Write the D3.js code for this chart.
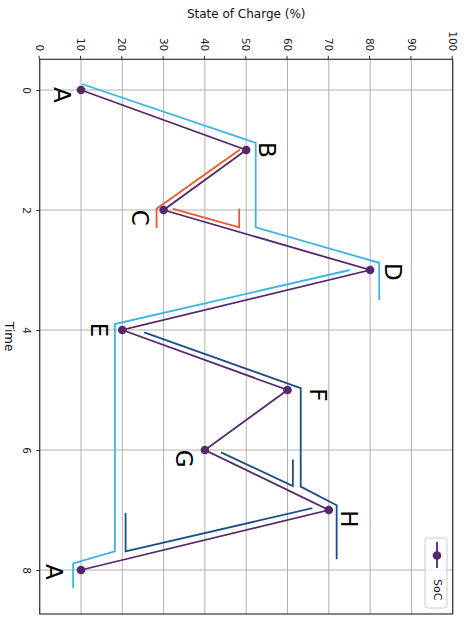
<!DOCTYPE html>
<html>
<head>
<meta charset="utf-8">
<script src="https://cdn.jsdelivr.net/npm/d3@7"></script>
<style>
  body { margin: 0; background: #fff; }
  svg { display: block; font-family: "DejaVu Sans", sans-serif; }
</style>
</head>
<body>
<svg id="chart" width="470" height="634"></svg>
<script>
// state of charge profile, turning points A..H..A
const times = [0, 1, 2, 3, 4, 5, 6, 7, 8];
const soc = [10, 50, 30, 80, 20, 60, 40, 70, 10];
const pointLabels = ["A", "B", "C", "D", "E", "F", "G", "H", "A"];
// where each letter sits, [time, soc]
const labelPos = [[0.08, 5.5], [1.0, 55.0], [2.13, 24.3], [3.03, 85.5], [4.0, 14.4],
                  [5.08, 67.5], [6.145, 34.9], [7.15, 74.9], [8.03, 3.5]];

// rainflow paths, [time, soc]
const blueFlow1 = [[-0.1, 10.2], [0.88, 52.3], [2.29, 52.3], [2.88, 82.2], [3.5, 82.2]];
const blueFlow2 = [[3.0, 75.1], [3.9, 18.2], [7.69, 18.2], [7.89, 8.1], [8.3, 8.1]];
const orangeFlow1 = [[0.99, 48.5], [1.98, 28.3], [2.3, 28.3]];
const orangeFlow2 = [[1.98, 32.3], [2.29, 48.3], [1.98, 48.3]];
const navyFlow1 = [[4.04, 25.3], [4.97, 63.2], [6.61, 63.2], [6.92, 71.9], [7.82, 71.9]];
const navyFlow2 = [[6.04, 43.9], [6.6, 61.3], [6.16, 61.3]];
const navyFlow3 = [[6.97, 66.0], [7.69, 20.8], [7.05, 20.8]];

const timeTicks = [0, 2, 4, 6, 8];
const socTicks = [0, 10, 20, 30, 40, 50, 60, 70, 80, 90, 100];

// the chart is drawn as a normal 634x470 plot, then turned 90deg clockwise
const plotL = 59.3, plotR = 614, plotT = 17.3, plotB = 430.3;

var svg = d3.select("#chart");
var g = svg.append("g").attr("transform", "translate(470,0) rotate(90)");

var x = d3.scaleLinear().domain([(plotL - 90) / 60, (plotR - 90) / 60]).range([plotL, plotR]);
var y = d3.scaleLinear().domain([0, 100]).range([plotB, plotT]);

// grid
g.append("g").selectAll("line").data(timeTicks).enter().append("line")
  .attr("x1", d => x(d)).attr("x2", d => x(d))
  .attr("y1", plotT).attr("y2", plotB)
  .attr("stroke", "#b0b0b0").attr("stroke-width", 1);
g.append("g").selectAll("line").data(socTicks).enter().append("line")
  .attr("x1", plotL).attr("x2", plotR)
  .attr("y1", d => y(d)).attr("y2", d => y(d))
  .attr("stroke", "#b0b0b0").attr("stroke-width", 1);

var line = d3.line().x(d => x(d[0])).y(d => y(d[1]));

var flows = [
  [blueFlow1, "#3bb4e6"], [blueFlow2, "#3bb4e6"],
  [orangeFlow1, "#f0562b"], [orangeFlow2, "#f0562b"],
  [navyFlow1, "#1d4d88"], [navyFlow2, "#1d4d88"], [navyFlow3, "#1d4d88"]
];
g.append("g").selectAll("path").data(flows).enter().append("path")
  .attr("d", d => line(d[0]))
  .attr("fill", "none")
  .attr("stroke", d => d[1])
  .attr("stroke-width", 1.8);

var socData = times.map((t, i) => [t, soc[i]]);
g.append("path")
  .attr("d", line(socData))
  .attr("fill", "none")
  .attr("stroke", "#55286b")
  .attr("stroke-width", 1.8);
g.append("g").selectAll("circle").data(socData).enter().append("circle")
  .attr("cx", d => x(d[0])).attr("cy", d => y(d[1]))
  .attr("r", 4.3).attr("fill", "#55286b");

g.append("g").selectAll("text").data(labelPos).enter().append("text")
  .attr("x", d => x(d[0]))
  .attr("y", d => y(d[1]))
  .attr("text-anchor", "middle")
  .attr("dominant-baseline", "central")
  .attr("font-size", 23)
  .attr("fill", "#000")
  .text((d, i) => pointLabels[i]);

// axes
var xAxis = g.append("g").attr("transform", `translate(0,${plotB})`)
  .call(d3.axisBottom(x).tickValues(timeTicks).tickSize(3.5).tickPadding(6).tickFormat(d3.format("d")));
var yAxis = g.append("g").attr("transform", `translate(${plotL},0)`)
  .call(d3.axisLeft(y).tickValues(socTicks).tickSize(3.5).tickPadding(4.5).tickFormat(d3.format("d")));
[xAxis, yAxis].forEach(a => {
  a.select(".domain").remove();
  a.selectAll("line").attr("stroke", "#333");
  a.selectAll("text").attr("font-size", 10.5).attr("fill", "#222").attr("font-family", "DejaVu Sans");
});

g.append("rect")
  .attr("x", plotL).attr("y", plotT)
  .attr("width", plotR - plotL).attr("height", plotB - plotT)
  .attr("fill", "none").attr("stroke", "#333").attr("stroke-width", 1.2);

g.append("text")
  .attr("x", (plotL + plotR) / 2).attr("y", 465)
  .attr("text-anchor", "middle")
  .attr("font-size", 12).attr("fill", "#111")
  .text("Time");
g.append("text")
  .attr("transform", `translate(14,${(plotT + plotB) / 2}) rotate(-90)`)
  .attr("text-anchor", "middle")
  .attr("dominant-baseline", "central")
  .attr("font-size", 12).attr("fill", "#111")
  .text("State of Charge (%)");

// legend
var legend = g.append("g").attr("transform", "translate(538,23)");
legend.append("rect")
  .attr("width", 70).attr("height", 22).attr("rx", 2.5)
  .attr("fill", "#fff").attr("fill-opacity", 0.8)
  .attr("stroke", "#cccccc");
legend.append("line")
  .attr("x1", 4).attr("x2", 30).attr("y1", 10).attr("y2", 10)
  .attr("stroke", "#55286b").attr("stroke-width", 1.8);
legend.append("circle").attr("cx", 17.5).attr("cy", 10).attr("r", 4.3).attr("fill", "#55286b");
legend.append("text")
  .attr("x", 41).attr("y", 10)
  .attr("dominant-baseline", "central")
  .attr("font-size", 11).attr("fill", "#111")
  .text("SoC");
</script>
</body>
</html>
